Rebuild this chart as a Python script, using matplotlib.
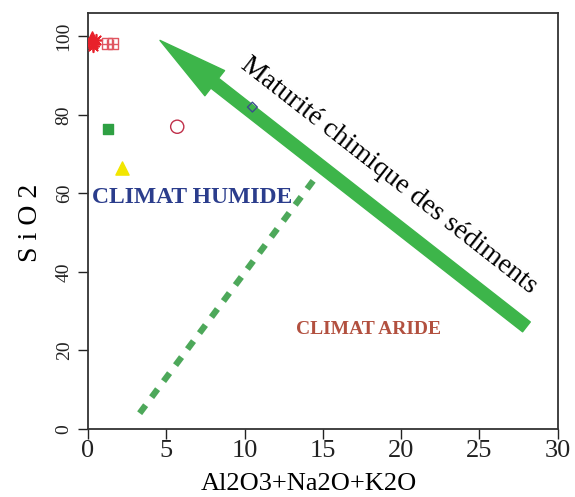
import numpy as np
import matplotlib.pyplot as plt

plt.rcParams['font.family'] = ['Liberation Serif', 'DejaVu Serif']

# samples (Al2O3+Na2O+K2O, SiO2)
red_star_x = [0.2, 0.35, 0.5, 0.3]
red_star_y = [98.5, 97.5, 99.0, 98.0]
red_tri_x = [0.25]
red_tri_y = [100.0]
red_box_x = [1.2, 1.6]
red_box_y = [98.2, 98.2]
green_sq_x = [1.3]
green_sq_y = [76.5]
circle_x = [5.7]
circle_y = [77.0]
yellow_tri_x = [2.2]
yellow_tri_y = [66.5]
blue_dia_x = [10.5]
blue_dia_y = [82.0]

arrow_tail = (28.0, 26.0)
arrow_head = (4.6, 99.0)
dash_x = [3.3, 14.9]
dash_y = [4.0, 66.0]

xticks = [0, 5, 10, 15, 20, 25, 30]
yticks = [0, 20, 40, 60, 80, 100]

fig = plt.figure(figsize=(5.75, 4.97), dpi=100)
ax = fig.add_axes([0.153, 0.137, 0.817, 0.837])

ax.plot(dash_x, dash_y, linestyle=(0, (1.6, 1.6)), color='#4da85a', lw=4.5, zorder=2)

ax.annotate('', xy=arrow_head, xytext=arrow_tail,
            arrowprops=dict(arrowstyle='simple,head_width=2.3,head_length=5,tail_width=0.9',
                            color='#3db54a', mutation_scale=10, shrinkA=0, shrinkB=0),
            zorder=3)

ax.scatter(red_star_x, red_star_y, marker=(8, 2, 0), s=70, color='#e8202a', lw=1.2, zorder=4)
ax.scatter(red_tri_x, red_tri_y, marker='^', s=45, color='#e8202a', zorder=4)
ax.scatter(red_box_x, red_box_y, marker='s', s=55, facecolor='none', edgecolor='#e05560', lw=1, zorder=4)
ax.scatter(red_box_x, red_box_y, marker='+', s=55, color='#e05560', lw=1, zorder=4)
ax.scatter(green_sq_x, green_sq_y, marker='s', s=60, color='#2ea043', zorder=4)
ax.scatter(circle_x, circle_y, marker='o', s=90, facecolor='none', edgecolor='#c0304a', lw=1, zorder=4)
ax.scatter(yellow_tri_x, yellow_tri_y, marker='^', s=90, color='#f2e600', zorder=4)
ax.scatter(blue_dia_x, blue_dia_y, marker='D', s=25, facecolor='none', edgecolor='#3a4f8a', lw=1, zorder=4)

ax.text(19.2, 64.5, 'Maturité chimique des sédiments', rotation=-38, rotation_mode='anchor',
        ha='center', va='center', fontsize=20, color='black')
ax.text(6.65, 59.0, 'CLIMAT HUMIDE', fontsize=17, fontweight='bold', color='#2b3d8c',
        ha='center', va='center')
ax.text(17.9, 25.4, 'CLIMAT ARIDE', fontsize=14, fontweight='bold', color='#b2503f',
        ha='center', va='center')

ax.set_xlim(0, 30)
ax.set_ylim(0, 106)
ax.set_xticks(xticks)
ax.set_yticks(yticks)
ax.tick_params(direction='out', length=7, width=1, colors='#222222')
ax.tick_params(axis='x', labelsize=19, pad=1)
ax.tick_params(axis='y', labelsize=14, pad=4)
for lab in ax.get_yticklabels():
    lab.set_rotation(90)
    lab.set_va('center')
for s in ax.spines.values():
    s.set_linewidth(1.3)
    s.set_color('#333333')

ax.set_xlabel('Al2O3+Na2O+K2O', fontsize=19, va='center')
ax.xaxis.set_label_coords(0.47, -0.133)
ax.set_ylabel('S i O 2', fontsize=20, va='center')
ax.yaxis.set_label_coords(-0.123, 0.495)

fig.savefig('out.png', dpi=100)
